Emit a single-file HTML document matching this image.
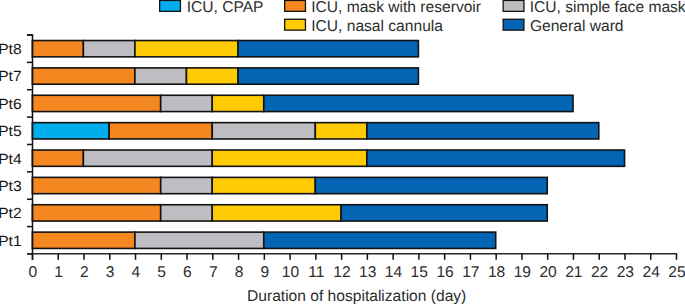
<!DOCTYPE html>
<html><head><meta charset="utf-8"><style>
html,body{margin:0;padding:0;background:#fff;width:685px;height:304px;overflow:hidden}
svg{display:block}
.t{text-rendering:geometricPrecision;font-family:"Liberation Sans",sans-serif;font-size:15.6px;fill:#2e2e2e}
</style></head><body>
<svg width="685" height="304" viewBox="0 0 685 304">
<rect x="32.35" y="40.54" width="51.03" height="16.30" fill="#f4871f" stroke="#121212" stroke-width="1.6"/>
<rect x="83.38" y="40.54" width="51.54" height="16.30" fill="#bebec2" stroke="#121212" stroke-width="1.6"/>
<rect x="134.92" y="40.54" width="103.08" height="16.30" fill="#ffcb05" stroke="#121212" stroke-width="1.6"/>
<rect x="238.00" y="40.54" width="180.39" height="16.30" fill="#0365b4" stroke="#121212" stroke-width="1.6"/>
<text transform="translate(21.6,54.00) scale(1.055,1)" text-anchor="end" class="t" style="font-size:14.8px;fill:#181818">Pt8</text>
<rect x="32.35" y="67.91" width="102.57" height="16.30" fill="#f4871f" stroke="#121212" stroke-width="1.6"/>
<rect x="134.92" y="67.91" width="51.54" height="16.30" fill="#bebec2" stroke="#121212" stroke-width="1.6"/>
<rect x="186.46" y="67.91" width="51.54" height="16.30" fill="#ffcb05" stroke="#121212" stroke-width="1.6"/>
<rect x="238.00" y="67.91" width="180.39" height="16.30" fill="#0365b4" stroke="#121212" stroke-width="1.6"/>
<text transform="translate(21.6,81.41) scale(1.055,1)" text-anchor="end" class="t" style="font-size:14.8px;fill:#181818">Pt7</text>
<rect x="32.35" y="95.27" width="128.34" height="16.30" fill="#f4871f" stroke="#121212" stroke-width="1.6"/>
<rect x="160.69" y="95.27" width="51.54" height="16.30" fill="#bebec2" stroke="#121212" stroke-width="1.6"/>
<rect x="212.23" y="95.27" width="51.54" height="16.30" fill="#ffcb05" stroke="#121212" stroke-width="1.6"/>
<rect x="263.77" y="95.27" width="309.24" height="16.30" fill="#0365b4" stroke="#121212" stroke-width="1.6"/>
<text transform="translate(21.6,108.82) scale(1.055,1)" text-anchor="end" class="t" style="font-size:14.8px;fill:#181818">Pt6</text>
<rect x="32.35" y="122.65" width="76.80" height="16.30" fill="#02adee" stroke="#121212" stroke-width="1.6"/>
<rect x="109.15" y="122.65" width="103.08" height="16.30" fill="#f4871f" stroke="#121212" stroke-width="1.6"/>
<rect x="212.23" y="122.65" width="103.08" height="16.30" fill="#bebec2" stroke="#121212" stroke-width="1.6"/>
<rect x="315.31" y="122.65" width="51.54" height="16.30" fill="#ffcb05" stroke="#121212" stroke-width="1.6"/>
<rect x="366.85" y="122.65" width="231.93" height="16.30" fill="#0365b4" stroke="#121212" stroke-width="1.6"/>
<text transform="translate(21.6,136.23) scale(1.055,1)" text-anchor="end" class="t" style="font-size:14.8px;fill:#181818">Pt5</text>
<rect x="32.35" y="150.02" width="51.03" height="16.30" fill="#f4871f" stroke="#121212" stroke-width="1.6"/>
<rect x="83.38" y="150.02" width="128.85" height="16.30" fill="#bebec2" stroke="#121212" stroke-width="1.6"/>
<rect x="212.23" y="150.02" width="154.62" height="16.30" fill="#ffcb05" stroke="#121212" stroke-width="1.6"/>
<rect x="366.85" y="150.02" width="257.70" height="16.30" fill="#0365b4" stroke="#121212" stroke-width="1.6"/>
<text transform="translate(21.6,163.64) scale(1.055,1)" text-anchor="end" class="t" style="font-size:14.8px;fill:#181818">Pt4</text>
<rect x="32.35" y="177.38" width="128.34" height="16.30" fill="#f4871f" stroke="#121212" stroke-width="1.6"/>
<rect x="160.69" y="177.38" width="51.54" height="16.30" fill="#bebec2" stroke="#121212" stroke-width="1.6"/>
<rect x="212.23" y="177.38" width="103.08" height="16.30" fill="#ffcb05" stroke="#121212" stroke-width="1.6"/>
<rect x="315.31" y="177.38" width="231.93" height="16.30" fill="#0365b4" stroke="#121212" stroke-width="1.6"/>
<text transform="translate(21.6,191.05) scale(1.055,1)" text-anchor="end" class="t" style="font-size:14.8px;fill:#181818">Pt3</text>
<rect x="32.35" y="204.75" width="128.34" height="16.30" fill="#f4871f" stroke="#121212" stroke-width="1.6"/>
<rect x="160.69" y="204.75" width="51.54" height="16.30" fill="#bebec2" stroke="#121212" stroke-width="1.6"/>
<rect x="212.23" y="204.75" width="128.85" height="16.30" fill="#ffcb05" stroke="#121212" stroke-width="1.6"/>
<rect x="341.08" y="204.75" width="206.16" height="16.30" fill="#0365b4" stroke="#121212" stroke-width="1.6"/>
<text transform="translate(21.6,218.46) scale(1.055,1)" text-anchor="end" class="t" style="font-size:14.8px;fill:#181818">Pt2</text>
<rect x="32.35" y="232.12" width="102.57" height="16.30" fill="#f4871f" stroke="#121212" stroke-width="1.6"/>
<rect x="134.92" y="232.12" width="128.85" height="16.30" fill="#bebec2" stroke="#121212" stroke-width="1.6"/>
<rect x="263.77" y="232.12" width="231.93" height="16.30" fill="#0365b4" stroke="#121212" stroke-width="1.6"/>
<text transform="translate(21.6,245.87) scale(1.055,1)" text-anchor="end" class="t" style="font-size:14.8px;fill:#181818">Pt1</text>
<path d="M27 35.00 H32.5 V259.80" fill="none" stroke="#121212" stroke-width="1.5" stroke-linejoin="miter"/>
<line x1="27" y1="35.00" x2="32.5" y2="35.00" stroke="#121212" stroke-width="1.5"/>
<line x1="27" y1="62.37" x2="32.5" y2="62.37" stroke="#121212" stroke-width="1.5"/>
<line x1="27" y1="89.74" x2="32.5" y2="89.74" stroke="#121212" stroke-width="1.5"/>
<line x1="27" y1="117.11" x2="32.5" y2="117.11" stroke="#121212" stroke-width="1.5"/>
<line x1="27" y1="144.48" x2="32.5" y2="144.48" stroke="#121212" stroke-width="1.5"/>
<line x1="27" y1="171.85" x2="32.5" y2="171.85" stroke="#121212" stroke-width="1.5"/>
<line x1="27" y1="199.22" x2="32.5" y2="199.22" stroke="#121212" stroke-width="1.5"/>
<line x1="27" y1="226.59" x2="32.5" y2="226.59" stroke="#121212" stroke-width="1.5"/>
<line x1="27" y1="253.96" x2="32.5" y2="253.96" stroke="#121212" stroke-width="1.5"/>
<line x1="27" y1="253.80" x2="677.25" y2="253.80" stroke="#2a2a2a" stroke-width="1.5"/>
<line x1="32.50" y1="253.80" x2="32.50" y2="259.80" stroke="#121212" stroke-width="1.5"/>
<text x="32.90" y="277" text-anchor="middle" class="t" style="font-size:15.6px">0</text>
<line x1="58.26" y1="253.80" x2="58.26" y2="259.80" stroke="#121212" stroke-width="1.5"/>
<text x="58.66" y="277" text-anchor="middle" class="t" style="font-size:15.6px">1</text>
<line x1="84.02" y1="253.80" x2="84.02" y2="259.80" stroke="#121212" stroke-width="1.5"/>
<text x="84.42" y="277" text-anchor="middle" class="t" style="font-size:15.6px">2</text>
<line x1="109.78" y1="253.80" x2="109.78" y2="259.80" stroke="#121212" stroke-width="1.5"/>
<text x="110.18" y="277" text-anchor="middle" class="t" style="font-size:15.6px">3</text>
<line x1="135.54" y1="253.80" x2="135.54" y2="259.80" stroke="#121212" stroke-width="1.5"/>
<text x="135.94" y="277" text-anchor="middle" class="t" style="font-size:15.6px">4</text>
<line x1="161.30" y1="253.80" x2="161.30" y2="259.80" stroke="#121212" stroke-width="1.5"/>
<text x="161.70" y="277" text-anchor="middle" class="t" style="font-size:15.6px">5</text>
<line x1="187.06" y1="253.80" x2="187.06" y2="259.80" stroke="#121212" stroke-width="1.5"/>
<text x="187.46" y="277" text-anchor="middle" class="t" style="font-size:15.6px">6</text>
<line x1="212.82" y1="253.80" x2="212.82" y2="259.80" stroke="#121212" stroke-width="1.5"/>
<text x="213.22" y="277" text-anchor="middle" class="t" style="font-size:15.6px">7</text>
<line x1="238.58" y1="253.80" x2="238.58" y2="259.80" stroke="#121212" stroke-width="1.5"/>
<text x="238.98" y="277" text-anchor="middle" class="t" style="font-size:15.6px">8</text>
<line x1="264.34" y1="253.80" x2="264.34" y2="259.80" stroke="#121212" stroke-width="1.5"/>
<text x="264.74" y="277" text-anchor="middle" class="t" style="font-size:15.6px">9</text>
<line x1="290.10" y1="253.80" x2="290.10" y2="259.80" stroke="#121212" stroke-width="1.5"/>
<text x="290.50" y="277" text-anchor="middle" class="t" style="font-size:15.6px">10</text>
<line x1="315.86" y1="253.80" x2="315.86" y2="259.80" stroke="#121212" stroke-width="1.5"/>
<text x="316.26" y="277" text-anchor="middle" class="t" style="font-size:15.6px">11</text>
<line x1="341.62" y1="253.80" x2="341.62" y2="259.80" stroke="#121212" stroke-width="1.5"/>
<text x="342.02" y="277" text-anchor="middle" class="t" style="font-size:15.6px">12</text>
<line x1="367.38" y1="253.80" x2="367.38" y2="259.80" stroke="#121212" stroke-width="1.5"/>
<text x="367.78" y="277" text-anchor="middle" class="t" style="font-size:15.6px">13</text>
<line x1="393.14" y1="253.80" x2="393.14" y2="259.80" stroke="#121212" stroke-width="1.5"/>
<text x="393.54" y="277" text-anchor="middle" class="t" style="font-size:15.6px">14</text>
<line x1="418.90" y1="253.80" x2="418.90" y2="259.80" stroke="#121212" stroke-width="1.5"/>
<text x="419.30" y="277" text-anchor="middle" class="t" style="font-size:15.6px">15</text>
<line x1="444.66" y1="253.80" x2="444.66" y2="259.80" stroke="#121212" stroke-width="1.5"/>
<text x="445.06" y="277" text-anchor="middle" class="t" style="font-size:15.6px">16</text>
<line x1="470.42" y1="253.80" x2="470.42" y2="259.80" stroke="#121212" stroke-width="1.5"/>
<text x="470.82" y="277" text-anchor="middle" class="t" style="font-size:15.6px">17</text>
<line x1="496.18" y1="253.80" x2="496.18" y2="259.80" stroke="#121212" stroke-width="1.5"/>
<text x="496.58" y="277" text-anchor="middle" class="t" style="font-size:15.6px">18</text>
<line x1="521.94" y1="253.80" x2="521.94" y2="259.80" stroke="#121212" stroke-width="1.5"/>
<text x="522.34" y="277" text-anchor="middle" class="t" style="font-size:15.6px">19</text>
<line x1="547.70" y1="253.80" x2="547.70" y2="259.80" stroke="#121212" stroke-width="1.5"/>
<text x="548.10" y="277" text-anchor="middle" class="t" style="font-size:15.6px">20</text>
<line x1="573.46" y1="253.80" x2="573.46" y2="259.80" stroke="#121212" stroke-width="1.5"/>
<text x="573.86" y="277" text-anchor="middle" class="t" style="font-size:15.6px">21</text>
<line x1="599.22" y1="253.80" x2="599.22" y2="259.80" stroke="#121212" stroke-width="1.5"/>
<text x="599.62" y="277" text-anchor="middle" class="t" style="font-size:15.6px">22</text>
<line x1="624.98" y1="253.80" x2="624.98" y2="259.80" stroke="#121212" stroke-width="1.5"/>
<text x="625.38" y="277" text-anchor="middle" class="t" style="font-size:15.6px">23</text>
<line x1="650.74" y1="253.80" x2="650.74" y2="259.80" stroke="#121212" stroke-width="1.5"/>
<text x="651.14" y="277" text-anchor="middle" class="t" style="font-size:15.6px">24</text>
<line x1="676.50" y1="253.80" x2="676.50" y2="259.80" stroke="#121212" stroke-width="1.5"/>
<text x="676.90" y="277" text-anchor="middle" class="t" style="font-size:15.6px">25</text>
<text x="247" y="300.7" class="t">Duration of hospitalization (day)</text>
<rect x="159.65" y="0.45" width="20.8" height="10.9" fill="#02adee" stroke="#121212" stroke-width="1.3"/>
<text x="186.7" y="12.00" class="t">ICU, CPAP</text>
<rect x="284.65" y="0.45" width="20.8" height="10.9" fill="#f4871f" stroke="#121212" stroke-width="1.3"/>
<text x="311.2" y="12.00" class="t">ICU, mask with reservoir</text>
<rect x="284.65" y="19.25" width="20.8" height="10.9" fill="#ffcb05" stroke="#121212" stroke-width="1.3"/>
<text x="311.2" y="30.80" class="t">ICU, nasal cannula</text>
<rect x="503.15" y="0.45" width="20.8" height="10.9" fill="#bebec2" stroke="#121212" stroke-width="1.3"/>
<text x="529.7" y="12.00" class="t">ICU, simple face mask</text>
<rect x="503.15" y="19.25" width="20.8" height="10.9" fill="#0365b4" stroke="#121212" stroke-width="1.3"/>
<text x="529.9" y="30.80" class="t">General ward</text>
</svg>
</body></html>
